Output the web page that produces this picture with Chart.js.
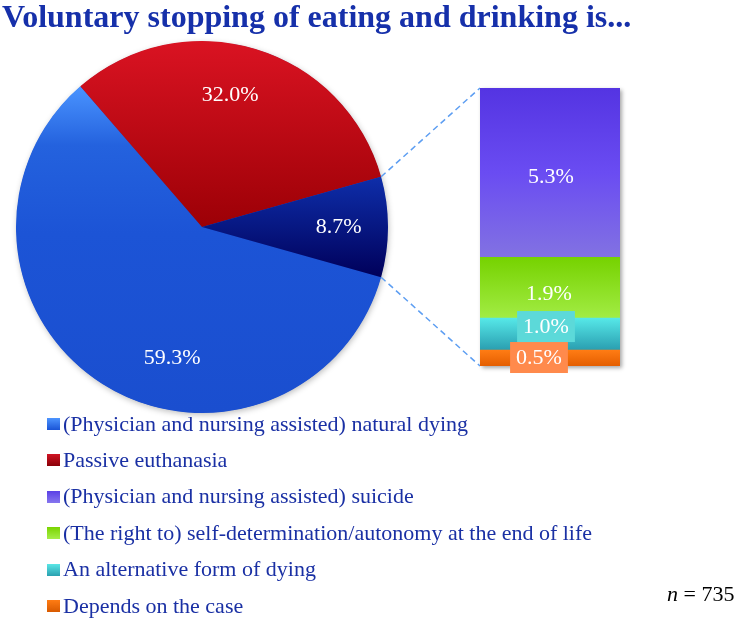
<!DOCTYPE html>
<html>
<head>
<meta charset="utf-8">
<script src="https://cdn.jsdelivr.net/npm/chart.js@4.4.1/dist/chart.umd.min.js"></script>
<style>
html,body{margin:0;padding:0;background:#fff;}
#wrap{position:relative;width:737px;height:620px;overflow:hidden;font-family:"Liberation Serif","Times New Roman",serif;}
#wrap canvas{position:absolute;left:0;top:0;}
#title{position:absolute;left:2px;top:0;font-weight:bold;font-size:32px;line-height:32px;color:#1630aa;white-space:nowrap;}
.lg{position:absolute;left:47px;height:24px;font-size:22px;line-height:24px;color:#1a30a4;white-space:nowrap;}
.lg i{position:absolute;left:0;top:6.4px;width:13px;height:12px;}
.lg span{position:absolute;left:16px;top:0;}
#nlab{position:absolute;left:667px;top:582.3px;font-size:22px;line-height:24px;color:#000;white-space:nowrap;}
</style>
</head>
<body>
<div id="wrap">
  <canvas id="pie" width="737" height="620"></canvas>
  <canvas id="bar" width="737" height="620"></canvas>
  <div id="title">Voluntary stopping of eating and drinking is...</div>
  <div id="legend"></div>
  <div id="nlab"><i>n</i> = 735</div>
</div>
<script>
// ---------- data ----------
const titleText = "Voluntary stopping of eating and drinking is...";
const pieLabels = ["(Physician and nursing assisted) natural dying", "Passive euthanasia", "Other responses (detailed in bar)"];
const pieValues = [59.3, 32.0, 8.7];
const barLabels = ["(Physician and nursing assisted) suicide", "(The right to) self-determination/autonomy at the end of life", "An alternative form of dying", "Depends on the case"];
const barValues = [5.3, 1.9, 1.0, 0.5];
const sampleSize = 735;

// ---------- styles ----------
const pieGrad = [
  [[0, "#4a94ff"], [0.18, "#2462de"], [0.45, "#1c54d6"], [1, "#1a4ecf"]],
  [[0, "#da1322"], [1, "#9c0006"]],
  [[0, "#0e2eaa"], [1, "#00005a"]]
];
const barGrad = [
  [[0, "#5434e2"], [0.5, "#6a4cf2"], [1, "#8272e2"]],
  [[0, "#76d200"], [1, "#a2ec44"]],
  [[0, "#56e8e8"], [1, "#2a9eb0"]],
  [[0, "#ff7c14"], [1, "#e45e00"]]
];
const legendMarker = [
  "linear-gradient(#4d95ff,#1a54d6)",
  "linear-gradient(#d01424,#8a0008)",
  "linear-gradient(#5a40e6,#8676ee)",
  "linear-gradient(#7ad400,#a6ee4a)",
  "linear-gradient(#5ae6e6,#2aa0b0)",
  "linear-gradient(#ff7c14,#d85a00)"
];
const pieLabelPos = [{frac: 0.408, r: 0.725}, {frac: 0.459, r: 0.725}, {frac: 0.5, r: 0.735}];
const barLabelOff = [{dx: 1, dy: 3.5, box: null}, {dx: -1, dy: 6, box: null}, {dx: -4, dy: -7.5, box: "#5cd9d9"}, {dx: -11, dy: -0.5, box: "#ff8a4c"}];
const labelFont = '22px "Liberation Serif"';

// ---------- legend (HTML) ----------
const legendItems = [pieLabels[0], pieLabels[1]].concat(barLabels);
const lg = document.getElementById('legend');
legendItems.forEach((t, k) => {
  const d = document.createElement('div');
  d.className = 'lg';
  d.style.top = (431 + 36.4 * k - 19.4) + 'px';
  const m = document.createElement('i');
  m.style.background = legendMarker[k];
  const s = document.createElement('span');
  s.textContent = t;
  d.appendChild(m); d.appendChild(s);
  lg.appendChild(d);
});
document.getElementById('title').textContent = titleText;
document.getElementById('nlab').innerHTML = '<i>n</i> = ' + sampleSize;

const fmt = v => v.toFixed(1) + '%';
const pieTotal = pieValues.reduce((a, b) => a + b, 0);
// rotate so that the breakdown slice (last) is centred on 3 o'clock
const beforeLast = pieValues.slice(0, -1).reduce((a, b) => a + b, 0);
const pieRotation = 90 + 360 - 360 * (beforeLast + pieValues[pieValues.length - 1] / 2) / pieTotal;

function makeGrad(ctx, y0, y1, stops) {
  const g = ctx.createLinearGradient(0, y0, 0, y1);
  stops.forEach(s => g.addColorStop(s[0], s[1]));
  return g;
}
function arcYExtent(cy, r, a0, a1) {
  const ys = [cy, cy + r * Math.sin(a0), cy + r * Math.sin(a1)];
  for (let k = -3; k <= 5; k++) {
    const a = Math.PI / 2 + k * Math.PI;
    if (a > a0 && a < a1) ys.push(cy + r * Math.sin(a));
  }
  return [Math.min(...ys), Math.max(...ys)];
}

function pieColor(c) {
  const chart = c.chart, area = chart.chartArea, i = c.dataIndex;
  if (!area) return pieGrad[i][0][1];
  const cx = (area.left + area.right) / 2, cy = (area.top + area.bottom) / 2;
  const r = Math.min(area.right - area.left, area.bottom - area.top) / 2;
  const cum = pieValues.slice(0, i).reduce((a, b) => a + b, 0);
  const a0 = -Math.PI / 2 + pieRotation * Math.PI / 180 + 2 * Math.PI * cum / pieTotal;
  const a1 = a0 + 2 * Math.PI * pieValues[i] / pieTotal;
  const [y0, y1] = arcYExtent(cy, r, a0, a1);
  return makeGrad(chart.ctx, y0, y1, pieGrad[i]);
}

const pieShadow = {
  id: 'pieShadow',
  beforeDatasetsDraw(chart) {
    const el = chart.getDatasetMeta(0).data[0];
    if (!el) return;
    const ctx = chart.ctx;
    ctx.save();
    ctx.shadowColor = 'rgba(0,0,0,0.28)';
    ctx.shadowBlur = 6; ctx.shadowOffsetX = 1; ctx.shadowOffsetY = 2;
    ctx.fillStyle = '#1a4ecf';
    ctx.beginPath(); ctx.arc(el.x, el.y, el.outerRadius - 0.5, 0, Math.PI * 2); ctx.fill();
    ctx.restore();
  }
};
const pieLabelPlugin = {
  id: 'pieLabels',
  afterDatasetsDraw(chart) {
    const ctx = chart.ctx;
    ctx.save();
    ctx.font = labelFont; ctx.fillStyle = '#ffffff';
    ctx.textAlign = 'center'; ctx.textBaseline = 'middle';
    chart.getDatasetMeta(0).data.forEach((arc, i) => {
      const a = arc.startAngle + pieLabelPos[i].frac * (arc.endAngle - arc.startAngle);
      const r = pieLabelPos[i].r * arc.outerRadius;
      ctx.fillText(fmt(pieValues[i]), arc.x + r * Math.cos(a), arc.y + r * Math.sin(a));
    });
    ctx.restore();
  }
};

const pieChart = new Chart(document.getElementById('pie'), {
  type: 'pie',
  data: { labels: pieLabels, datasets: [{ data: pieValues, backgroundColor: pieColor, borderWidth: 0, hoverOffset: 0 }] },
  options: {
    responsive: false, animation: false, rotation: pieRotation,
    layout: { padding: { left: 16, top: 41, right: 349, bottom: 207 } },
    plugins: { legend: { display: false }, tooltip: { enabled: false }, title: { display: false } },
    events: []
  },
  plugins: [pieShadow, pieLabelPlugin]
});

// ---------- bar (stacked, bottom segment first) ----------
const order = barValues.map((v, i) => i).reverse(); // dataset index -> category index
const barTotal = barValues.reduce((a, b) => a + b, 0);

function barColor(c) {
  const chart = c.chart, k = order[c.datasetIndex];
  const ys = chart.scales && chart.scales.y;
  if (!ys || !chart.chartArea) return barGrad[k][0][1];
  const below = barValues.slice(k + 1).reduce((a, b) => a + b, 0);
  const yTop = ys.getPixelForValue(below + barValues[k]);
  const yBot = ys.getPixelForValue(below);
  return makeGrad(chart.ctx, yTop, yBot, barGrad[k]);
}

const connectors = {
  id: 'connectors',
  beforeDatasetsDraw(chart) {
    const pm = pieChart.getDatasetMeta(0).data;
    const arc = pm[pm.length - 1];
    const topEl = chart.getDatasetMeta(chart.data.datasets.length - 1).data[0];
    const botEl = chart.getDatasetMeta(0).data[0];
    const left = botEl.x - botEl.width / 2;
    const ctx = chart.ctx;
    ctx.save();
    // bar shadow
    ctx.shadowColor = 'rgba(0,0,0,0.35)';
    ctx.shadowBlur = 4; ctx.shadowOffsetX = 2; ctx.shadowOffsetY = 2;
    ctx.fillStyle = '#888';
    ctx.fillRect(left, topEl.y, botEl.width, botEl.base - topEl.y);
    ctx.restore();
    ctx.save();
    ctx.strokeStyle = '#5d9ef2'; ctx.lineWidth = 1.5; ctx.setLineDash([6, 4]);
    ctx.beginPath();
    ctx.moveTo(arc.x + arc.outerRadius * Math.cos(arc.startAngle), arc.y + arc.outerRadius * Math.sin(arc.startAngle));
    ctx.lineTo(left, topEl.y);
    ctx.moveTo(arc.x + arc.outerRadius * Math.cos(arc.endAngle), arc.y + arc.outerRadius * Math.sin(arc.endAngle));
    ctx.lineTo(left, botEl.base);
    ctx.stroke();
    ctx.restore();
  }
};
const barLabelPlugin = {
  id: 'barLabels',
  afterDatasetsDraw(chart) {
    const ctx = chart.ctx;
    ctx.save();
    ctx.font = labelFont; ctx.textAlign = 'center'; ctx.textBaseline = 'middle';
    chart.data.datasets.forEach((ds, d) => {
      const k = order[d];
      const el = chart.getDatasetMeta(d).data[0];
      const x = el.x + barLabelOff[k].dx;
      const y = (el.y + el.base) / 2 + barLabelOff[k].dy;
      const txt = fmt(barValues[k]);
      if (barLabelOff[k].box) {
        const w = ctx.measureText(txt).width + 12;
        ctx.fillStyle = barLabelOff[k].box;
        ctx.fillRect(x - w / 2, y - 15.5, w, 31);
      }
      ctx.fillStyle = '#ffffff';
      ctx.fillText(txt, x, y + 1);
    });
    ctx.restore();
  }
};

new Chart(document.getElementById('bar'), {
  type: 'bar',
  data: {
    labels: [''],
    datasets: order.map(k => ({ label: barLabels[k], data: [barValues[k]], backgroundColor: barColor, borderWidth: 0, barPercentage: 1, categoryPercentage: 1 }))
  },
  options: {
    responsive: false, animation: false, events: [],
    layout: { padding: { left: 480, right: 117, top: 88, bottom: 254 } },
    scales: {
      x: { stacked: true, display: false },
      y: { stacked: true, display: false, min: 0, max: barTotal }
    },
    plugins: { legend: { display: false }, tooltip: { enabled: false }, title: { display: false } }
  },
  plugins: [connectors, barLabelPlugin]
});
</script>
</body>
</html>
